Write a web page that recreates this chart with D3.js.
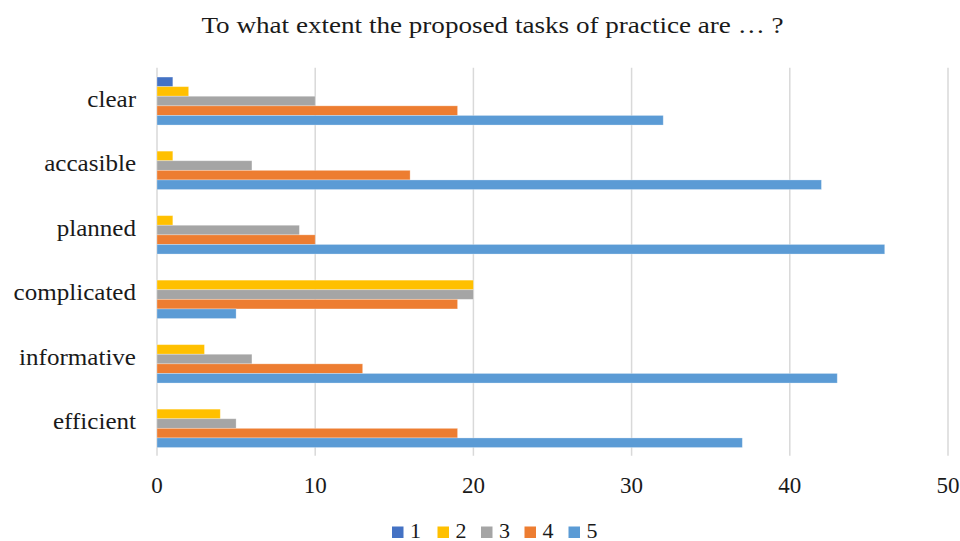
<!DOCTYPE html>
<html>
<head>
<meta charset="utf-8">
<script src="https://cdn.jsdelivr.net/npm/d3@7"></script>
<style>
  html, body { margin: 0; padding: 0; background: #fff; }
  svg { display: block; }
  text { font-family: "Liberation Serif", "Times New Roman", serif; fill: #1a1a1a; }
</style>
</head>
<body>
<svg id="chart" width="960" height="541"></svg>
<script>
const title = "To what extent the proposed tasks of practice are … ?";
const categories = ["clear", "accasible", "planned", "complicated", "informative", "efficient"];
const seriesNames = ["1", "2", "3", "4", "5"];
const series1 = [1, 0, 0, 0, 0, 0];
const series2 = [2, 1, 1, 20, 3, 4];
const series3 = [10, 6, 9, 20, 6, 5];
const series4 = [19, 16, 10, 19, 13, 19];
const series5 = [32, 42, 46, 5, 43, 37];
const seriesColors = ["#4472C4", "#FFC000", "#A5A5A5", "#ED7D31", "#5B9BD5"];
const xTicks = [0, 10, 20, 30, 40, 50];

const seriesValues = [series1, series2, series3, series4, series5];

const svg = d3.select("#chart");
const plotLeft = 157, plotRight = 948, plotTop = 68.8, plotBottom = 455.8;

const x = d3.scaleLinear().domain([0, 50]).range([plotLeft, plotRight]);
const y = d3.scaleBand().domain(categories).range([plotTop, plotBottom])
  .paddingInner(0.256).paddingOuter(0.128);
const ySub = d3.scaleBand().domain(seriesNames).range([0, y.bandwidth()]);

// title
svg.append("g").attr("transform", "translate(492.5,33) scale(1.13,1)")
  .append("text")
  .attr("x", 0).attr("y", 0)
  .attr("text-anchor", "middle")
  .style("font-size", "24px")
  .text(title);

// gridlines
svg.append("g").selectAll("line").data(xTicks).join("line")
  .attr("x1", d => x(d)).attr("x2", d => x(d))
  .attr("y1", plotTop - 1).attr("y2", plotBottom)
  .attr("stroke", "#d9d9d9").attr("stroke-width", 1.5);

// bars
const groups = svg.append("g").selectAll("g").data(categories).join("g")
  .attr("transform", d => `translate(0,${y(d)})`);
groups.each(function(cat, ci) {
  d3.select(this).selectAll("rect")
    .data(seriesNames.map((s, si) => ({ s, si, v: seriesValues[si][ci] })).filter(d => d.v > 0))
    .join("rect")
    .attr("x", x(0))
    .attr("y", d => ySub(d.s))
    .attr("width", d => x(d.v) - x(0))
    .attr("height", ySub.bandwidth())
    .attr("fill", d => seriesColors[d.si])
    .attr("stroke", "#ffffff").attr("stroke-opacity", 0.35).attr("stroke-width", 0.8);
});

// category labels
svg.append("g").selectAll("g").data(categories).join("g")
  .attr("transform", d => `translate(136,${y(d) + y.bandwidth() / 2 + 5.5}) scale(1.09,1)`)
  .append("text")
  .attr("text-anchor", "end")
  .style("font-size", "23px")
  .text(d => d);

// x tick labels
svg.append("g").selectAll("text").data(xTicks).join("text")
  .attr("x", d => x(d))
  .attr("y", 492.5)
  .attr("text-anchor", "middle")
  .style("font-size", "23px")
  .text(d => d);

// legend
const legendX = [392, 437.5, 481, 524.5, 568.5];
const lg = svg.append("g").selectAll("g").data(seriesNames).join("g")
  .attr("transform", (d, i) => `translate(${legendX[i]},526.5)`);
lg.append("rect").attr("width", 11.5).attr("height", 11.5)
  .attr("fill", (d, i) => seriesColors[i]);
lg.append("text").attr("x", 18).attr("y", 11)
  .style("font-size", "22px")
  .text(d => d);
</script>
</body>
</html>
